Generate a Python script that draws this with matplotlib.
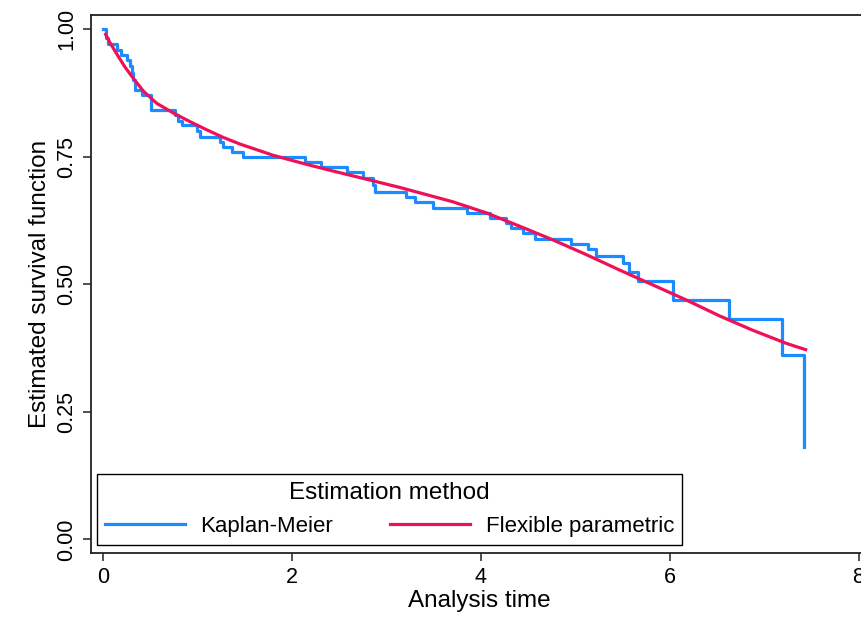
import matplotlib
matplotlib.use('Agg')
import matplotlib.pyplot as plt

plt.rcParams['font.family'] = ['Liberation Sans', 'DejaVu Sans']

# Kaplan-Meier step function (time of drop, survival after drop)
km_time = [0.0, 0.025, 0.053, 0.142, 0.187, 0.254, 0.283, 0.300, 0.318, 0.336,
           0.41, 0.51, 0.76, 0.79, 0.83, 0.99, 1.02, 1.24, 1.27, 1.36,
           1.48, 2.14, 2.31, 2.58, 2.75, 2.86, 2.88, 3.21, 3.30, 3.49,
           3.85, 4.10, 4.27, 4.32, 4.45, 4.57, 4.95, 5.14, 5.22, 5.51,
           5.57, 5.66, 6.03, 6.63, 7.19, 7.42]
km_surv = [1.000, 0.982, 0.971, 0.959, 0.950, 0.940, 0.928, 0.915, 0.900, 0.881,
           0.871, 0.842, 0.832, 0.820, 0.812, 0.800, 0.789, 0.780, 0.770, 0.760,
           0.750, 0.740, 0.730, 0.720, 0.708, 0.695, 0.682, 0.672, 0.662, 0.650,
           0.639, 0.631, 0.620, 0.610, 0.600, 0.588, 0.579, 0.570, 0.556, 0.541,
           0.525, 0.506, 0.469, 0.433, 0.361, 0.182]

# flexible parametric fit
fp_time = [0.025, 0.07, 0.142, 0.23, 0.318, 0.424, 0.565, 0.741, 0.918, 1.095,
           1.271, 1.448, 1.624, 1.8, 1.977, 2.2, 2.436, 2.79, 3.14, 3.4,
           3.7, 4.06, 4.41, 4.765, 5.12, 5.47, 5.82, 6.18, 6.53, 6.88,
           7.24, 7.44]
fp_surv = [0.990, 0.974, 0.952, 0.926, 0.904, 0.879, 0.855, 0.836, 0.819, 0.803,
           0.788, 0.775, 0.764, 0.753, 0.744, 0.733, 0.722, 0.706, 0.690, 0.677,
           0.662, 0.640, 0.614, 0.587, 0.558, 0.528, 0.499, 0.469, 0.438, 0.410,
           0.384, 0.372]

fig = plt.figure(figsize=(8.62, 6.19), dpi=100)
# right spine falls just outside the canvas, as in the cropped original
ax = fig.add_axes([0.1052, 0.1071, 0.9017, 0.8687])

ax.step(km_time, km_surv, where='post', color='#1a8cff', lw=2.3, label='Kaplan-Meier')
ax.plot(fp_time, fp_surv, color='#ee1158', lw=2.3, label='Flexible parametric')

ax.set_xlim(-0.133, 8.1)
ax.set_ylim(-0.026, 1.028)
ax.set_xticks([0, 2, 4, 6, 8])
ax.set_yticks([0, 0.25, 0.5, 0.75, 1.0])
ax.set_yticklabels(['0.00', '0.25', '0.50', '0.75', '1.00'], rotation=90, va='center')
ax.tick_params(axis='both', labelsize=15.5, length=6, width=1.2, color='#333333')
ax.tick_params(axis='x', pad=4)
for s in ax.spines.values():
    s.set_linewidth(1.3)
    s.set_color('#222222')

ax.set_xlabel('Analysis time', fontsize=17.5, labelpad=2)
ax.set_ylabel('Estimated survival function', fontsize=17.5, labelpad=4)

leg = ax.legend(loc='lower left', bbox_to_anchor=(0.0081, 0.0143, 0.7527, 0.13),
                mode='expand', ncol=2, title='Estimation method', fontsize=16,
                title_fontsize=17.5, fancybox=False, edgecolor='black',
                handlelength=3.6, handletextpad=0.7, borderaxespad=0,
                borderpad=0.35, labelspacing=0.3, framealpha=1)
leg.get_frame().set_linewidth(1.0)
leg._legend_box.sep = 9

fig.savefig('out.png', dpi=100)
